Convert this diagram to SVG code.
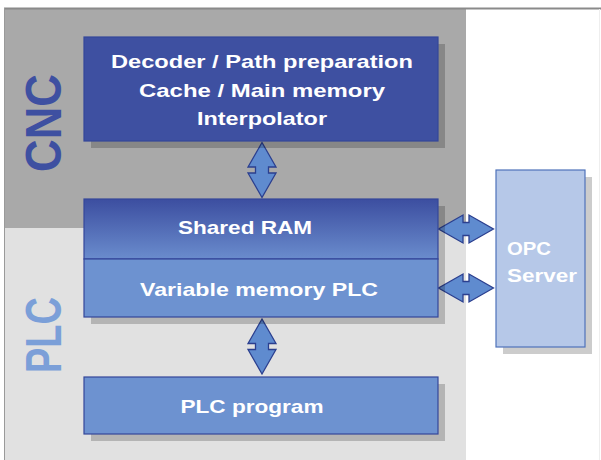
<svg xmlns="http://www.w3.org/2000/svg" width="601" height="460" viewBox="0 0 601 460">
  <style>
    .zone-cnc { fill: #a9a9a9; }
    .zone-plc { fill: #e1e1e1; }
    .shadow { fill: #000; fill-opacity: 0.2; }
    .box { stroke: #34479a; stroke-width: 1.2; }
    .dark { fill: #3e50a1; }
    .mid { fill: #6d92d0; }
    .light { fill: #b6c8e8; stroke: #4f72b9; stroke-width: 1.2; }
    .lbl { font-family: "Liberation Sans", Arial, sans-serif; font-weight: bold; font-size: 19px; fill: #ffffff; text-anchor: middle; }
    .zone-lbl { font-family: "Liberation Sans", Arial, sans-serif; font-weight: bold; font-size: 50px; text-anchor: middle; }
    .arrow { fill: #5f8bcf; stroke: #2b3f8f; stroke-width: 1.3; stroke-linejoin: miter; }
  </style>
  <defs>
    <linearGradient id="ramGrad" x1="0" y1="0" x2="0" y2="1">
      <stop offset="0" stop-color="#3c4ea0"/>
      <stop offset="1" stop-color="#6a8ccd"/>
    </linearGradient>
    <!-- double-headed arrow with a short waist, centred on the origin, pointing along y -->
    <path id="dblArrowV" d="M0,-27.5 L14,-3 L6.5,-3 L6.5,3 L14,3 L0,27.5 L-14,3 L-6.5,3 L-6.5,-3 L-14,-3 Z"/>
  </defs>

  <!-- background zones -->
  <rect x="0" y="0" width="601" height="460" fill="#ffffff"/>
  <rect class="zone-cnc" x="4" y="8" width="462" height="220"/>
  <rect class="zone-plc" x="4" y="228" width="462" height="232"/>
  <line x1="4" y1="8.5" x2="601" y2="8.5" stroke="#8a8a8a" stroke-width="2"/>
  <line x1="4.5" y1="8" x2="4.5" y2="460" stroke="#9a9a9a" stroke-width="1"/>
  <line x1="599.5" y1="9" x2="599.5" y2="460" stroke="#eeeeee" stroke-width="1"/>

  <text class="zone-lbl" transform="translate(61,123) rotate(-90)" fill="#3e50a1" textLength="98" lengthAdjust="spacingAndGlyphs">CNC</text>
  <text class="zone-lbl" transform="translate(61,335) rotate(-90)" fill="#7b9fd8" textLength="76" lengthAdjust="spacingAndGlyphs">PLC</text>

  <!-- connectors -->
  <g id="connectors">
    <use href="#dblArrowV" class="arrow" transform="translate(262,170)"/>
    <use href="#dblArrowV" class="arrow" transform="translate(262,346.5)"/>
    <use href="#dblArrowV" class="arrow" transform="translate(466,229) rotate(90) scale(1,1.0)"/>
    <use href="#dblArrowV" class="arrow" transform="translate(466,288) rotate(90)"/>
  </g>

  <g id="node-cnc-core">
    <rect class="shadow" x="91" y="44" width="354" height="104"/>
    <rect class="box dark" x="84" y="37" width="354" height="104"/>
    <text class="lbl" x="262" y="68" textLength="302" lengthAdjust="spacingAndGlyphs">Decoder / Path preparation</text>
    <text class="lbl" x="262" y="97" textLength="246" lengthAdjust="spacingAndGlyphs">Cache / Main memory</text>
    <text class="lbl" x="262" y="125" textLength="130" lengthAdjust="spacingAndGlyphs">Interpolator</text>
  </g>

  <g id="node-memory">
    <rect class="shadow" x="91" y="206" width="354" height="118"/>
    <rect x="84" y="199" width="354" height="60" fill="url(#ramGrad)" class="box"/>
    <rect class="box mid" x="84" y="259" width="354" height="58"/>
    <text class="lbl" x="245" y="234" textLength="134" lengthAdjust="spacingAndGlyphs">Shared RAM</text>
    <text class="lbl" x="259" y="296" textLength="238" lengthAdjust="spacingAndGlyphs">Variable memory PLC</text>
  </g>

  <g id="node-plc-program">
    <rect class="shadow" x="91" y="384" width="354" height="57"/>
    <rect class="box mid" x="84" y="377" width="354" height="57"/>
    <text class="lbl" x="252" y="413" textLength="143" lengthAdjust="spacingAndGlyphs">PLC program</text>
  </g>

  <g id="node-opc">
    <rect class="shadow" x="503" y="177" width="89" height="177"/>
    <rect class="light" x="496" y="170" width="89" height="177"/>
    <text class="lbl" x="507" y="255" text-anchor="start" style="text-anchor:start" textLength="44" lengthAdjust="spacingAndGlyphs">OPC</text>
    <text class="lbl" x="507" y="282" style="text-anchor:start" textLength="70" lengthAdjust="spacingAndGlyphs">Server</text>
  </g>
</svg>
